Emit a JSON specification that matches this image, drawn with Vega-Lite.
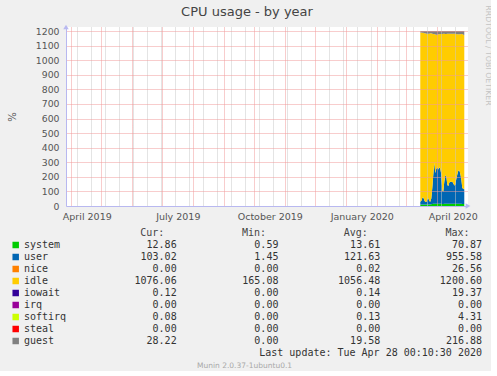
{
  "$schema": "https://vega.github.io/schema/vega-lite/v6.json",
  "background": "#f0f0f0",
  "padding": {"left": 7, "top": 4, "right": 0, "bottom": 0},
  "spacing": 6,
  "config": {"view": {"stroke": null}, "font": "DejaVu Sans"},
  "datasets": {
    "tbl": [
      {"series": "system", "Cur": 12.86, "Min": 0.59, "Avg": 13.61, "Max": 70.87},
      {"series": "user", "Cur": 103.02, "Min": 1.45, "Avg": 121.63, "Max": 955.58},
      {"series": "nice", "Cur": 0.00, "Min": 0.00, "Avg": 0.02, "Max": 26.56},
      {"series": "idle", "Cur": 1076.06, "Min": 165.08, "Avg": 1056.48, "Max": 1200.60},
      {"series": "iowait", "Cur": 0.12, "Min": 0.00, "Avg": 0.14, "Max": 19.37},
      {"series": "irq", "Cur": 0.00, "Min": 0.00, "Avg": 0.00, "Max": 0.00},
      {"series": "softirq", "Cur": 0.08, "Min": 0.00, "Avg": 0.13, "Max": 4.31},
      {"series": "steal", "Cur": 0.00, "Min": 0.00, "Avg": 0.00, "Max": 0.00},
      {"series": "guest", "Cur": 28.22, "Min": 0.00, "Avg": 19.58, "Max": 216.88}
    ]
  },
  "vconcat": [
    {
      "title": {"text": "CPU usage - by year", "frame": "group", "anchor": "middle", "dx": -20, "offset": -14.5, "fontSize": 13, "font": "DejaVu Sans", "fontWeight": "normal", "color": "#444"},
      "width": 402,
      "height": 179,
      "view": {"fill": "white"},
      "resolve": {"axis": {"x": "independent", "y": "independent"}},
      "layer": [
        {
          "data": {"values": [
            {"t": "2020-03-15", "system": 10, "user": 20, "idle": 1160, "guest": 10},
            {"t": "2020-03-16", "system": 10, "user": 25, "idle": 1155, "guest": 10},
            {"t": "2020-03-17", "system": 10, "user": 45, "idle": 1133, "guest": 12},
            {"t": "2020-03-18", "system": 10, "user": 50, "idle": 1128, "guest": 12},
            {"t": "2020-03-19", "system": 10, "user": 30, "idle": 1145, "guest": 15},
            {"t": "2020-03-20", "system": 10, "user": 18, "idle": 1157, "guest": 15},
            {"t": "2020-03-21", "system": 10, "user": 18, "idle": 1154, "guest": 18},
            {"t": "2020-03-22", "system": 10, "user": 35, "idle": 1137, "guest": 18},
            {"t": "2020-03-23", "system": 10, "user": 45, "idle": 1127, "guest": 18},
            {"t": "2020-03-24", "system": 10, "user": 25, "idle": 1147, "guest": 18},
            {"t": "2020-03-25", "system": 10, "user": 20, "idle": 1155, "guest": 15},
            {"t": "2020-03-26", "system": 12, "user": 40, "idle": 1133, "guest": 15},
            {"t": "2020-03-27", "system": 14, "user": 110, "idle": 1058, "guest": 18},
            {"t": "2020-03-28", "system": 16, "user": 200, "idle": 964, "guest": 20},
            {"t": "2020-03-29", "system": 16, "user": 280, "idle": 884, "guest": 20},
            {"t": "2020-03-30", "system": 16, "user": 210, "idle": 950, "guest": 24},
            {"t": "2020-03-31", "system": 16, "user": 240, "idle": 919, "guest": 25},
            {"t": "2020-04-01", "system": 16, "user": 250, "idle": 909, "guest": 25},
            {"t": "2020-04-02", "system": 16, "user": 235, "idle": 927, "guest": 22},
            {"t": "2020-04-03", "system": 16, "user": 250, "idle": 912, "guest": 22},
            {"t": "2020-04-04", "system": 16, "user": 240, "idle": 924, "guest": 20},
            {"t": "2020-04-05", "system": 16, "user": 200, "idle": 964, "guest": 20},
            {"t": "2020-04-06", "system": 14, "user": 90, "idle": 1076, "guest": 20},
            {"t": "2020-04-07", "system": 14, "user": 85, "idle": 1083, "guest": 18},
            {"t": "2020-04-08", "system": 16, "user": 150, "idle": 1016, "guest": 18},
            {"t": "2020-04-09", "system": 16, "user": 195, "idle": 969, "guest": 20},
            {"t": "2020-04-10", "system": 16, "user": 190, "idle": 974, "guest": 20},
            {"t": "2020-04-11", "system": 15, "user": 130, "idle": 1037, "guest": 18},
            {"t": "2020-04-12", "system": 15, "user": 120, "idle": 1047, "guest": 18},
            {"t": "2020-04-13", "system": 16, "user": 145, "idle": 1021, "guest": 18},
            {"t": "2020-04-14", "system": 16, "user": 150, "idle": 1016, "guest": 18},
            {"t": "2020-04-15", "system": 16, "user": 148, "idle": 1018, "guest": 18},
            {"t": "2020-04-16", "system": 16, "user": 150, "idle": 1016, "guest": 18},
            {"t": "2020-04-17", "system": 16, "user": 140, "idle": 1026, "guest": 18},
            {"t": "2020-04-18", "system": 15, "user": 125, "idle": 1042, "guest": 18},
            {"t": "2020-04-19", "system": 15, "user": 130, "idle": 1037, "guest": 18},
            {"t": "2020-04-20", "system": 16, "user": 170, "idle": 994, "guest": 20},
            {"t": "2020-04-21", "system": 16, "user": 200, "idle": 962, "guest": 22},
            {"t": "2020-04-22", "system": 16, "user": 225, "idle": 937, "guest": 22},
            {"t": "2020-04-23", "system": 16, "user": 230, "idle": 932, "guest": 22},
            {"t": "2020-04-24", "system": 16, "user": 205, "idle": 957, "guest": 22},
            {"t": "2020-04-25", "system": 15, "user": 170, "idle": 995, "guest": 20},
            {"t": "2020-04-26", "system": 14, "user": 110, "idle": 1056, "guest": 20},
            {"t": "2020-04-27", "system": 13, "user": 105, "idle": 1057, "guest": 25},
            {"t": "2020-04-28", "system": 13, "user": 100, "idle": 1059, "guest": 28}
          ]},
          "transform": [
            {"fold": ["system", "user", "idle", "guest"], "as": ["series", "value"]},
            {"calculate": "indexof(['system','user','idle','guest'], datum.series)", "as": "o"}
          ],
          "mark": {"type": "area", "opacity": 1},
          "encoding": {
            "x": {
              "field": "t", "type": "temporal",
              "scale": {"type": "utc", "domain": [{"year": 2019, "month": 3, "date": 26, "hours": 17, "utc": true}, {"year": 2020, "month": 5, "date": 1, "hours": 17, "utc": true}]},
              "axis": {
                "title": null,
                "values": [
                  {"year": 2019, "month": 4, "date": 1, "utc": true},
                  {"year": 2019, "month": 5, "date": 1, "utc": true},
                  {"year": 2019, "month": 6, "date": 1, "utc": true},
                  {"year": 2019, "month": 7, "date": 1, "utc": true},
                  {"year": 2019, "month": 8, "date": 1, "utc": true},
                  {"year": 2019, "month": 9, "date": 1, "utc": true},
                  {"year": 2019, "month": 10, "date": 1, "utc": true},
                  {"year": 2019, "month": 11, "date": 1, "utc": true},
                  {"year": 2019, "month": 12, "date": 1, "utc": true},
                  {"year": 2020, "month": 1, "date": 1, "utc": true},
                  {"year": 2020, "month": 2, "date": 1, "utc": true},
                  {"year": 2020, "month": 3, "date": 1, "utc": true},
                  {"year": 2020, "month": 4, "date": 1, "utc": true},
                  {"year": 2019, "month": 4, "date": 7, "utc": true},
                  {"year": 2019, "month": 4, "date": 21, "utc": true},
                  {"year": 2019, "month": 5, "date": 5, "utc": true},
                  {"year": 2019, "month": 5, "date": 19, "utc": true},
                  {"year": 2019, "month": 6, "date": 2, "utc": true},
                  {"year": 2019, "month": 6, "date": 16, "utc": true},
                  {"year": 2019, "month": 6, "date": 30, "utc": true},
                  {"year": 2019, "month": 7, "date": 14, "utc": true},
                  {"year": 2019, "month": 7, "date": 28, "utc": true},
                  {"year": 2019, "month": 8, "date": 11, "utc": true},
                  {"year": 2019, "month": 8, "date": 25, "utc": true},
                  {"year": 2019, "month": 9, "date": 8, "utc": true},
                  {"year": 2019, "month": 9, "date": 22, "utc": true},
                  {"year": 2019, "month": 10, "date": 6, "utc": true},
                  {"year": 2019, "month": 10, "date": 20, "utc": true},
                  {"year": 2019, "month": 11, "date": 3, "utc": true},
                  {"year": 2019, "month": 11, "date": 17, "utc": true},
                  {"year": 2019, "month": 12, "date": 15, "utc": true},
                  {"year": 2019, "month": 12, "date": 29, "utc": true},
                  {"year": 2020, "month": 1, "date": 12, "utc": true},
                  {"year": 2020, "month": 1, "date": 26, "utc": true},
                  {"year": 2020, "month": 2, "date": 9, "utc": true},
                  {"year": 2020, "month": 2, "date": 23, "utc": true},
                  {"year": 2020, "month": 3, "date": 8, "utc": true},
                  {"year": 2020, "month": 3, "date": 22, "utc": true},
                  {"year": 2020, "month": 4, "date": 5, "utc": true},
                  {"year": 2020, "month": 4, "date": 19, "utc": true},
                  {"year": 2019, "month": 4, "date": 16, "hours": 12, "utc": true},
                  {"year": 2019, "month": 7, "date": 16, "hours": 12, "utc": true},
                  {"year": 2019, "month": 10, "date": 16, "hours": 12, "utc": true},
                  {"year": 2020, "month": 1, "date": 16, "hours": 12, "utc": true},
                  {"year": 2020, "month": 4, "date": 16, "hours": 12, "utc": true}
                ],
                "labelExpr": "utchours(datum.value) == 12 ? utcFormat(datum.value, '%B %Y') : ''",
                "labelOverlap": false,
                "labelFlush": false,
                "ticks": false,
                "tickSize": 0,
                "labelPadding": 5,
                "labelFont": "DejaVu Sans",
                "labelFontSize": 9.5,
                "labelColor": "#555",
                "grid": true,
                "gridColor": {"condition": {"test": "utcdate(datum.value) == 1 && utchours(datum.value) == 0", "value": "#f09a9a"}, "value": "#c8c8c8"},
                "gridOpacity": {"condition": {"test": "utchours(datum.value) == 12", "value": 0}, "value": 1},
                "gridDash": [1, 1],
                "domainColor": "#b8b8f0",
                "zindex": 1
              }
            },
            "y": {
              "field": "value", "type": "quantitative", "stack": "zero",
              "scale": {"domain": [0, 1227.5], "nice": false, "zero": true},
              "axis": {
                "title": "%",
                "values": [0, 100, 200, 300, 400, 500, 600, 700, 800, 900, 1000, 1100, 1200],
                "format": "d",
                "ticks": false,
                "tickSize": 0,
                "labelPadding": 7,
                "labelFont": "DejaVu Sans",
                "labelFontSize": 9.3,
                "labelColor": "#555",
                "labelOverlap": false,
                "titleFont": "DejaVu Sans",
                "titleFontSize": 10,
                "titleFontWeight": "normal",
                "titleColor": "#555",
                "titlePadding": 18,
                "grid": true,
                "gridColor": "#f09a9a",
                "gridOpacity": {"condition": {"test": "datum.value == 0", "value": 0}, "value": 1},
                "gridDash": [1, 1],
                "domainColor": "#b8b8f0",
                "zindex": 1
              }
            },
            "color": {
              "field": "series", "type": "nominal",
              "scale": {"domain": ["system", "user", "nice", "idle", "iowait", "irq", "softirq", "steal", "guest"], "range": ["#00cc00", "#0066b3", "#ff8000", "#ffcc00", "#330099", "#990099", "#ccff00", "#ff0000", "#808080"]},
              "legend": null
            },
            "order": {"field": "o", "type": "quantitative", "sort": "ascending"}
          }
        },
        {
          "data": {"values": [{}]},
          "mark": {"type": "point", "shape": "triangle-up", "filled": true, "size": 30, "color": "#b8b8f0", "opacity": 1},
          "encoding": {
            "x": {"datum": {"year": 2019, "month": 3, "date": 26, "hours": 17, "utc": true}, "type": "temporal", "scale": {"type": "utc"}, "axis": null},
            "y": {"datum": 1227.5, "type": "quantitative", "axis": {
              "orient": "right",
              "title": "RRDTOOL / TOBI OETIKER",
              "labels": false, "ticks": false, "domain": false, "grid": false,
              "titleAngle": 90,
              "titleAlign": "center",
              "titleBaseline": "bottom",
              "titleFont": "DejaVu Sans",
              "titleFontSize": 7.8,
              "titleFontWeight": "normal",
              "titleColor": "#c4c4c4",
              "titlePadding": 15,
              "titleY": 28
            }}
          }
        },
        {
          "data": {"values": [{}]},
          "mark": {"type": "point", "shape": "triangle-right", "filled": true, "size": 30, "color": "#b8b8f0", "opacity": 1},
          "encoding": {
            "x": {"datum": {"year": 2020, "month": 5, "date": 1, "hours": 17, "utc": true}, "type": "temporal", "scale": {"type": "utc"}, "axis": null},
            "y": {"datum": 0, "type": "quantitative", "axis": null}
          }
        }
      ]
    },
    {
      "width": 402,
      "height": 144,
      "layer": [
        {
          "data": {"name": "tbl"},
          "mark": {"type": "square", "size": 42, "opacity": 1, "filled": true, "xOffset": -8.3},
          "encoding": {
            "x": {"datum": "name", "type": "nominal", "scale": {"type": "point", "domain": ["name", "p1", "p2", "Cur", "p3", "Min", "p4", "Avg", "p5", "Max"], "range": [-42, 416], "padding": 0}, "axis": null},
            "y": {"field": "series", "type": "nominal", "scale": {"type": "point", "domain": ["hdr", "system", "user", "nice", "idle", "iowait", "irq", "softirq", "steal", "guest", "last", "munin"], "padding": 0.5}, "axis": null},
            "color": {"field": "series", "type": "nominal", "scale": {"domain": ["system", "user", "nice", "idle", "iowait", "irq", "softirq", "steal", "guest"], "range": ["#00cc00", "#0066b3", "#ff8000", "#ffcc00", "#330099", "#990099", "#ccff00", "#ff0000", "#808080"]}, "legend": null}
          }
        },
        {
          "data": {"name": "tbl"},
          "mark": {"type": "text", "align": "left", "baseline": "middle", "font": "DejaVu Sans Mono", "fontSize": 10, "color": "#333"},
          "encoding": {
            "x": {"datum": "name", "type": "nominal"},
            "y": {"field": "series", "type": "nominal"},
            "text": {"field": "series", "type": "nominal"}
          }
        },
        {
          "data": {"name": "tbl"},
          "transform": [{"fold": ["Cur", "Min", "Avg", "Max"], "as": ["col", "val"]}],
          "mark": {"type": "text", "align": "right", "baseline": "middle", "font": "DejaVu Sans Mono", "fontSize": 10, "color": "#333"},
          "encoding": {
            "x": {"field": "col", "type": "nominal"},
            "y": {"field": "series", "type": "nominal"},
            "text": {"field": "val", "type": "quantitative", "format": ".2f"}
          }
        },
        {
          "data": {"values": [{"col": "Cur", "h": "Cur:"}, {"col": "Min", "h": "Min:"}, {"col": "Avg", "h": "Avg:"}, {"col": "Max", "h": "Max:"}]},
          "mark": {"type": "text", "align": "left", "baseline": "middle", "dx": -36.5, "font": "DejaVu Sans Mono", "fontSize": 10, "color": "#444"},
          "encoding": {
            "x": {"field": "col", "type": "nominal"},
            "y": {"datum": "hdr", "type": "nominal"},
            "text": {"field": "h", "type": "nominal"}
          }
        },
        {
          "data": {"values": [{"t": "Last update: Tue Apr 28 00:10:30 2020"}]},
          "mark": {"type": "text", "align": "right", "baseline": "middle", "font": "DejaVu Sans Mono", "fontSize": 10, "color": "#333"},
          "encoding": {
            "x": {"datum": "Max", "type": "nominal"},
            "y": {"datum": "last", "type": "nominal"},
            "text": {"field": "t", "type": "nominal"}
          }
        },
        {
          "data": {"values": [{"t": "Munin 2.0.37-1ubuntu0.1"}]},
          "mark": {"type": "text", "align": "center", "baseline": "middle", "dx": 17, "dy": 1, "font": "DejaVu Sans", "fontSize": 7.5, "color": "#a8a8a8"},
          "encoding": {
            "x": {"datum": "p3", "type": "nominal"},
            "y": {"datum": "munin", "type": "nominal"},
            "text": {"field": "t", "type": "nominal"}
          }
        }
      ]
    }
  ]
}
